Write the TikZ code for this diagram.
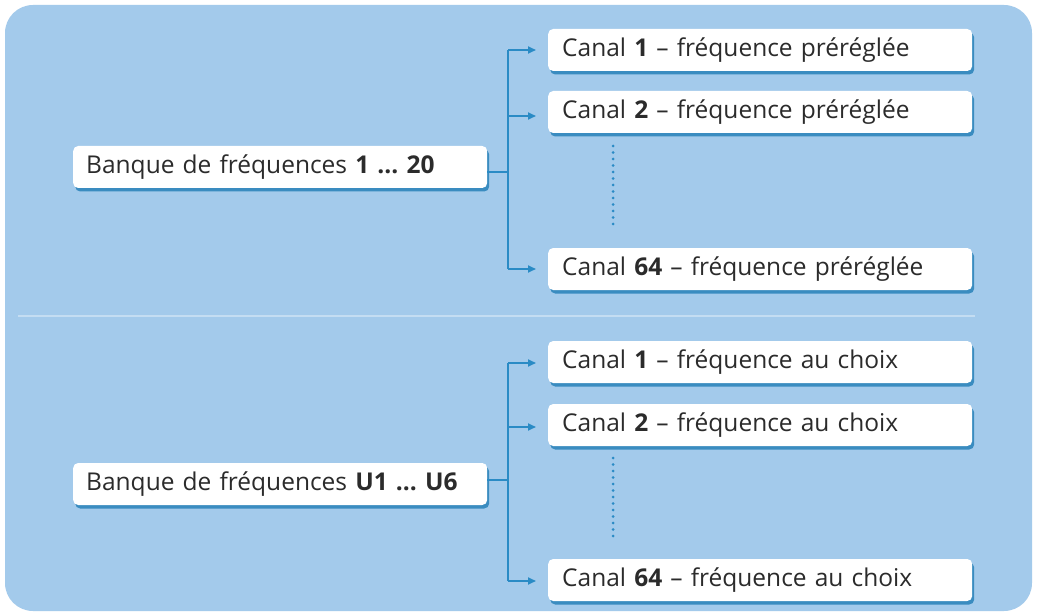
\documentclass[tikz,border=0pt]{standalone}
\usepackage{fontspec}
\setmainfont{Open Sans}
\frenchspacing
\usetikzlibrary{shadows,arrows.meta}
\definecolor{bgblue}{HTML}{A3CAEB}
\definecolor{lineblue}{HTML}{2A8BC5}
\definecolor{shadowblue}{HTML}{3A8CC0}
\definecolor{sepline}{HTML}{C4DDF2}
\definecolor{textgray}{HTML}{2B2B2B}
\tikzset{
  box/.style={draw=none, fill=white, rounded corners=5pt, anchor=west,
    minimum height=42pt, inner xsep=13pt, inner ysep=0pt, align=left,
    font=\fontsize{24.5}{28}\selectfont, text=textgray,
    drop shadow={shadow xshift=2pt, shadow yshift=-3.5pt, fill=shadowblue, opacity=1}},
  leftbox/.style={box, text width=388pt},
  chanbox/.style={box, text width=396pt, inner xsep=14pt},
  conn/.style={draw=lineblue, line width=1.8pt},
  arr/.style={conn, -{Triangle[length=8pt,width=7pt]}},
  dots/.style={draw=lineblue, line width=3pt, line cap=round, dash pattern=on 0pt off 6.5pt}
}
\begin{document}
\begin{tikzpicture}[x=1pt,y=-1pt]
\useasboundingbox (0,0) rectangle (1037,615);
\fill[white] (0,0) rectangle (1037,615);
\fill[bgblue, rounded corners=28pt] (5,5) rectangle (1032,611);
\draw[sepline, line width=1.5pt] (18,316) -- (975,316);

% top group
\node[leftbox] (b1) at (73,167) {Banque de fréquences \textbf{1 ... 20}};
\node[chanbox] (c1) at (548,50) {Canal \textbf{1} -- fréquence préréglée};
\node[chanbox] (c2) at (548,112) {Canal \textbf{2} -- fréquence préréglée};
\node[chanbox] (c64) at (548,269) {Canal \textbf{64} -- fréquence préréglée};
\coordinate (j1) at (508,172);
\coordinate (t1) at (508,50);
\coordinate (u1) at (508,269);
\draw[conn] (b1.east |- j1) -- (j1);
\draw[conn] (t1) -- (u1);
\draw[arr] (t1) -- (536,50);
\draw[arr] (508,116) -- (536,116);
\draw[arr] (u1) -- (536,269);
\coordinate (d1a) at (613,146);
\coordinate (d1b) at (613,230);
\draw[dots] (d1a) -- (d1b);

% bottom group
\node[leftbox] (b2) at (73,484) {Banque de fréquences \textbf{U1 ... U6}};
\node[chanbox] (e1) at (548,362) {Canal \textbf{1} -- fréquence au choix};
\node[chanbox] (e2) at (548,425) {Canal \textbf{2} -- fréquence au choix};
\node[chanbox] (e64) at (548,580) {Canal \textbf{64} -- fréquence au choix};
\coordinate (j2) at (508,480);
\coordinate (t2) at (508,363);
\coordinate (u2) at (508,581);
\draw[conn] (b2.east |- j2) -- (j2);
\draw[conn] (t2) -- (u2);
\draw[arr] (t2) -- (536,363);
\draw[arr] (508,427) -- (536,427);
\draw[arr] (u2) -- (536,581);
\coordinate (d2a) at (613,458);
\coordinate (d2b) at (613,542);
\draw[dots] (d2a) -- (d2b);
\end{tikzpicture}
\end{document}
